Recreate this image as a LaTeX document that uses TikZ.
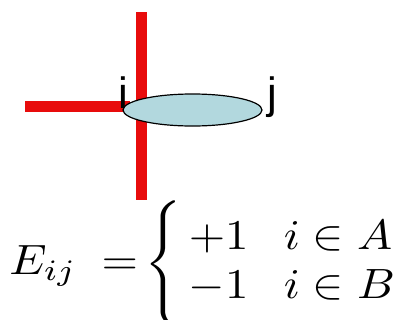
\documentclass[tikz,border=0pt]{standalone}
\usepackage{amsmath}
\usepackage{fontspec}
\newfontfamily\labelfont{Liberation Sans}
\usetikzlibrary{shapes.geometric}
\definecolor{barred}{RGB}{232,12,12}
\definecolor{bondblue}{RGB}{178,216,222}
\begin{document}
\begin{tikzpicture}[x=1bp,y=-1bp,
  bar/.style={barred,line width=11bp},
  site/.style={font=\labelfont\fontsize{44}{44}\selectfont,inner sep=0pt,anchor=base}]
\useasboundingbox (0,0) rectangle (404,320);
% red bars behind the bond
\draw[bar] (141,12) -- (141,200);
\draw[bar] (25,106.5) -- (130,106.5);
\node[ellipse,draw,line width=1.2bp,fill=bondblue,minimum width=139bp,minimum height=32bp,inner sep=0pt] (bond) at (192.5,110) {};
\node[site] (i) at (123,108) {i};
\node[site] (j) at (272,108) {j};
% sign of the edge
\node[font=\fontsize{10}{11.8}\selectfont,inner sep=0pt,xscale=4.7,yscale=4.25,transform shape] (eqn) at (205,264)
  {\delimitershortfall=-2.4pt
   $E_{ij}\hspace{0.25em}=\hspace{-0.15em}\left\{\begin{array}{@{\hspace{0.15em}}l@{\hspace{0.75em}}l@{}} +1 & i\in A\\ -1 & i\in B\end{array}\right.$};
\end{tikzpicture}
\end{document}
